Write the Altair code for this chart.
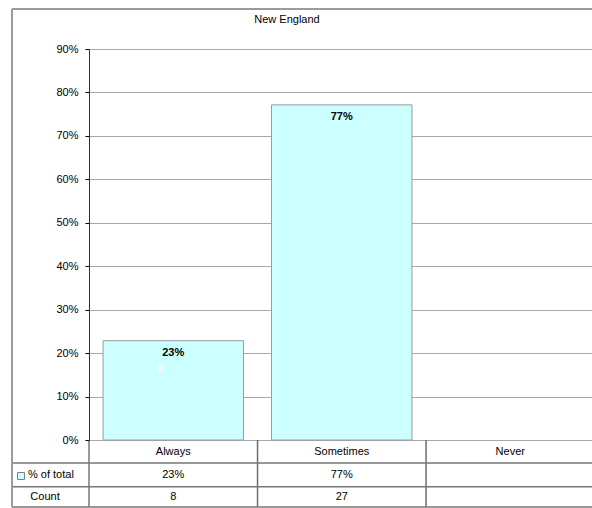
import altair as alt
import pandas as pd

# ---- data ----
categories = ["Always", "Sometimes", "Never"]
pct_values = [0.2286, 0.7714, None]
pct_labels = ["23%", "77%", ""]
count_values = [8, 27, None]
count_labels = ["8", "27", ""]
y_ticks = [0.0, 0.1, 0.2, 0.3, 0.4, 0.5, 0.6, 0.7, 0.8, 0.9]
title_text = "New England"
row_names = ["% of total", "Count"]

df = pd.DataFrame({
    "cat": categories,
    "pct": pct_values,
    "pct_label": pct_labels,
    "count": count_values,
    "count_label": count_labels,
})

FONT = "Liberation Sans"
W, H = 503, 391
FILL = "#CCFFFF"

xscale = alt.Scale(domain=categories, range=[0, 505.5],
                   paddingInner=0.1667, paddingOuter=0.0833)
yscale = alt.Scale(domain=[0, 0.9], nice=False, zero=True)

base = alt.Chart(df)

bars = base.mark_bar(fill=FILL, stroke="#9a9a9a", strokeWidth=1).encode(
    x=alt.X("cat:N", scale=xscale, sort=categories,
            axis=alt.Axis(labels=False, ticks=False, title=None, grid=False,
                          domainColor="#000", domainWidth=1)),
    y=alt.Y("pct:Q", scale=yscale,
            axis=alt.Axis(values=y_ticks, format=".0%", title=None, grid=True,
                          gridColor="#a8a8a8", gridWidth=1, tickColor="#000",
                          tickSize=4, labelPadding=7, labelFont=FONT,
                          labelFontSize=11, labelColor="#000",
                          domainColor="#333", domainWidth=1)),
)

bar_labels = base.mark_text(font=FONT, fontSize=11, fontWeight="bold",
                            baseline="top", dy=6, color="#000").encode(
    x=alt.X("cat:N", scale=xscale, sort=categories, axis=None),
    y=alt.Y("pct:Q", scale=yscale, axis=None),
    text="pct_label:N",
)

count_text = base.mark_text(font=FONT, fontSize=11, baseline="middle",
                            dx=-13, color="#ffffff").encode(
    x=alt.X("cat:N", scale=xscale, sort=categories, axis=None),
    y=alt.Y("count:Q", scale=alt.Scale(domain=[3.1, 30.5], nice=False, zero=False),
            axis=None),
    text="count_label:N",
)

plot = alt.layer(bars, bar_labels, count_text).resolve_scale(y="independent")

# ---- data table below the plot ----
hdr = base.mark_text(font=FONT, fontSize=11, color="#000", baseline="middle").encode(
    x=alt.X("cat:N", scale=xscale, sort=categories, axis=None),
    y=alt.value(402.5), text="cat:N")
pct_row = base.mark_text(font=FONT, fontSize=11, color="#000", baseline="middle").encode(
    x=alt.X("cat:N", scale=xscale, sort=categories, axis=None),
    y=alt.value(426), text="pct_label:N")
cnt_row = base.mark_text(font=FONT, fontSize=11, color="#000", baseline="middle").encode(
    x=alt.X("cat:N", scale=xscale, sort=categories, axis=None),
    y=alt.value(448), text="count_label:N")

vlines = alt.Chart(df.iloc[1:]).mark_rule(color="#6e6e6e", strokeWidth=1.5, xOffset=-14).encode(
    x=alt.X("cat:N", scale=xscale, sort=categories, axis=None, bandPosition=0),
    y=alt.value(391), y2=alt.value(458))

one = alt.Chart(pd.DataFrame({"k": [0]}))
axis_ext = one.mark_rule(color="#333", strokeWidth=1).encode(
    x=alt.value(0), y=alt.value(391), y2=alt.value(458))
hline1 = one.mark_rule(color="#777", strokeWidth=1.5).encode(
    x=alt.value(-77), x2=alt.value(503), y=alt.value(414))
hline2 = one.mark_rule(color="#777", strokeWidth=1.5).encode(
    x=alt.value(-77), x2=alt.value(503), y=alt.value(437.7))
hline3 = one.mark_rule(color="#777", strokeWidth=1.5).encode(
    x=alt.value(-77), x2=alt.value(503), y=alt.value(458))
border_left = one.mark_rule(color="#9a9a9a", strokeWidth=2).encode(
    x=alt.value(-77), y=alt.value(-40), y2=alt.value(458))
border_top = one.mark_rule(color="#9a9a9a", strokeWidth=2).encode(
    x=alt.value(-77), x2=alt.value(503), y=alt.value(-40))

legend_key = one.mark_square(size=49, fill=FILL, stroke="#808080",
                             strokeWidth=1, opacity=1).encode(
    x=alt.value(-68), y=alt.value(427))

rows_df = pd.DataFrame({"name": row_names})
row_pct = alt.Chart(rows_df.iloc[:1]).mark_text(
    font=FONT, fontSize=11, color="#000", align="left", baseline="middle").encode(
    x=alt.value(-61), y=alt.value(426), text="name:N")
row_cnt = alt.Chart(rows_df.iloc[1:]).mark_text(
    font=FONT, fontSize=11, color="#000", align="center", baseline="middle").encode(
    x=alt.value(-44), y=alt.value(448), text="name:N")

title = alt.Chart(pd.DataFrame({"t": [title_text]})).mark_text(
    font=FONT, fontSize=11, color="#000", baseline="middle").encode(
    x=alt.value(198), y=alt.value(-29), text="t:N")

chart = alt.layer(
    plot, hdr, pct_row, cnt_row, vlines, axis_ext, hline1, hline2, hline3,
    border_left, border_top, legend_key, row_pct, row_cnt, title
).properties(
    width=W, height=H,
    autosize=alt.AutoSizeParams(type="none"),
    padding={"left": 89, "top": 49, "right": 0, "bottom": 68},
    background="#ffffff",
).configure_view(stroke=None)

chart.save("out.html", embed_options={"renderer": "svg", "actions": False})
